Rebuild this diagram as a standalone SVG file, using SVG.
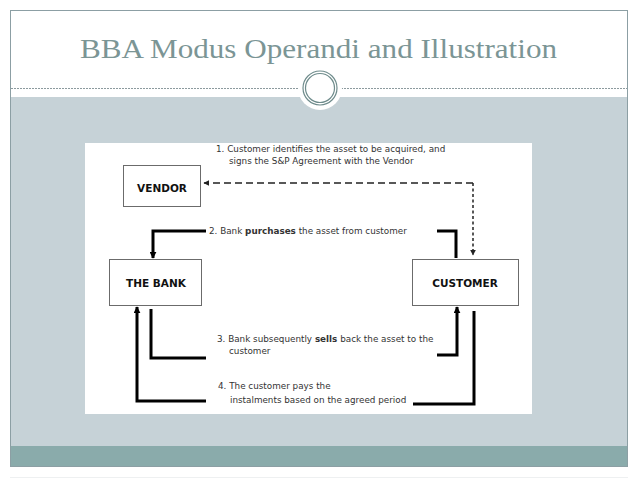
<svg xmlns="http://www.w3.org/2000/svg" width="638" height="479" viewBox="0 0 638 479">
<defs>
<style>
.box{fill:#fff;stroke:#6b6b6b;stroke-width:1}
.lbl{font-family:"DejaVu Sans",Verdana,sans-serif;font-weight:bold;font-size:10.5px;fill:#111;text-anchor:middle}
.step{font-family:"DejaVu Sans",Verdana,sans-serif;font-size:8.8px;fill:#333}
.thick{fill:none;stroke:#000;stroke-width:3;stroke-linejoin:miter}
.dash{fill:none;stroke:#222;stroke-width:1.5}
</style>
<marker id="ah" viewBox="0 0 10 10" refX="9" refY="5" markerWidth="7" markerHeight="7" markerUnits="userSpaceOnUse" orient="auto">
<path d="M0,0 L10,5 L0,10 z" fill="#000"/>
</marker>
<marker id="ahs" viewBox="0 0 10 10" refX="9" refY="5" markerWidth="6" markerHeight="6" markerUnits="userSpaceOnUse" orient="auto">
<path d="M0,0 L10,5 L0,10 z" fill="#222"/>
</marker>
</defs>
<rect x="0" y="0" width="638" height="479" fill="#fff"/>
<!-- slide frame -->
<rect x="10" y="97" width="618" height="349" fill="#c6d2d7"/>
<rect x="10" y="446" width="618" height="21" fill="#8aabab"/>
<rect x="10.5" y="10.5" width="617" height="456" fill="none" stroke="#8c9fa4" stroke-width="1"/>
<line x1="10" y1="477.5" x2="628" y2="477.5" stroke="#eef0f1" stroke-width="1"/>
<text x="80" y="58" font-family="Georgia,'Liberation Serif',serif" font-size="28" fill="#7b9595" textLength="477" lengthAdjust="spacingAndGlyphs">BBA Modus Operandi and Illustration</text>
<line x1="11" y1="88.5" x2="627" y2="88.5" stroke="#8c9a9e" stroke-width="1" stroke-dasharray="2,1"/>
<circle cx="320" cy="88" r="22" fill="#fff"/>
<circle cx="320" cy="88" r="17" fill="none" stroke="#6f8c8c" stroke-width="1.2"/>
<circle cx="320" cy="88" r="14.5" fill="none" stroke="#6f8c8c" stroke-width="1.2"/>
<!-- diagram panel -->
<rect x="85" y="143" width="447" height="271" fill="#fff"/>
<g id="vendor">
<rect class="box" x="123.5" y="165.5" width="77" height="41"/>
<text class="lbl" x="162" y="192">VENDOR</text>
</g>
<g id="bank">
<rect class="box" x="109.5" y="259.5" width="92" height="46"/>
<text class="lbl" x="156" y="287">THE BANK</text>
</g>
<g id="customer">
<rect class="box" x="412.5" y="259.5" width="106" height="46"/>
<text class="lbl" x="465" y="287">CUSTOMER</text>
</g>
<g id="connectors">
<path class="dash" d="M473,183 L204,183" stroke-dasharray="7,4" marker-end="url(#ahs)"/>
<path class="dash" d="M473,183 L473,255" stroke-dasharray="3,2.5" marker-end="url(#ahs)"/>
<path class="thick" d="M206,231 L153,231 L153,258" marker-end="url(#ah)"/>
<path class="thick" d="M437,231 L456,231 L456,258"/>
<path class="thick" d="M151,309 L151,358 L206,358"/>
<path class="thick" d="M437,355 L457,355 L457,307" marker-end="url(#ah)"/>
<path class="thick" d="M474,311 L474,404 L413,404"/>
<path class="thick" d="M206,401 L137,401 L137,307" marker-end="url(#ah)"/>
</g>
<g id="labels">
<text class="step" x="216" y="152">1. Customer identifies the asset to be acquired, and</text>
<text class="step" x="229" y="164">signs the S&amp;P Agreement with the Vendor</text>
<text class="step" x="209" y="234">2. Bank <tspan font-weight="bold">purchases</tspan> the asset from customer</text>
<text class="step" x="217" y="342">3. Bank subsequently <tspan font-weight="bold">sells</tspan> back the asset to the</text>
<text class="step" x="229" y="354">customer</text>
<text class="step" x="218" y="389">4. The customer pays the</text>
<text class="step" x="230" y="403">instalments based on the agreed period</text>
</g>
</svg>
